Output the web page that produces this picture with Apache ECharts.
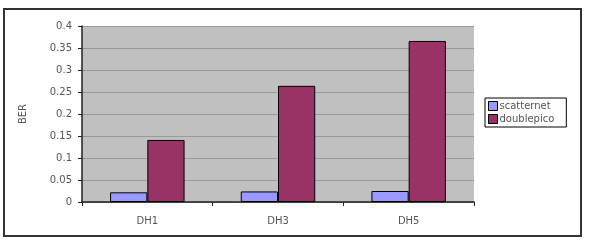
<!DOCTYPE html>
<html>
<head>
<meta charset="utf-8">
<script src="https://cdn.jsdelivr.net/npm/echarts@6/dist/echarts.min.js"></script>
<style>
  html, body { margin: 0; padding: 0; background: #fff; }
  #chart { width: 590px; height: 240px; }
</style>
</head>
<body>
<div id="chart"></div>
<script>
// data
const categories = ['DH1', 'DH3', 'DH5']
const scatternet = [0.022, 0.024, 0.025]
const doublepico = [0.141, 0.264, 0.366]
const yTicks = [0, 0.05, 0.1, 0.15, 0.2, 0.25, 0.3, 0.35, 0.4]

const font = 'DejaVu Sans, Liberation Sans, Arial, sans-serif'
const chart = echarts.init(document.getElementById('chart'))

chart.setOption({
  animation: false,
  textStyle: { fontFamily: font },
  graphic: [
    // outer frame
    {
      type: 'rect',
      shape: { x: 4, y: 9, width: 577, height: 227 },
      style: { fill: 'none', stroke: '#333', lineWidth: 2 },
      z: 100
    }
  ],
  grid: {
    left: 82,
    right: 116,
    top: 26,
    bottom: 38,
    show: true,
    backgroundColor: '#c0c0c0',
    borderWidth: 0
  },
  legend: {
    orient: 'vertical',
    left: 485,
    top: 98,
    icon: 'rect',
    itemWidth: 9,
    itemHeight: 9,
    itemGap: 3,
    padding: [3, 12, 3, 3],
    borderColor: '#000',
    borderWidth: 1,
    backgroundColor: '#fff',
    textStyle: { fontSize: 10, color: '#555', fontFamily: font, padding: [0, 0, 0, -3] },
    data: [
      { name: 'scatternet', itemStyle: { borderColor: '#000', borderWidth: 1 } },
      { name: 'doublepico', itemStyle: { borderColor: '#000', borderWidth: 1 } }
    ]
  },
  xAxis: {
    type: 'category',
    data: categories,
    axisLine: { lineStyle: { color: '#222', width: 1.5 } },
    axisTick: { show: true, length: 4, inside: false, lineStyle: { color: '#222' } },
    axisLabel: { fontSize: 10, color: '#555', margin: 14 }
  },
  yAxis: {
    type: 'value',
    min: 0,
    max: 0.4,
    interval: 0.05,
    name: 'BER',
    nameLocation: 'middle',
    nameRotate: 90,
    nameGap: 54,
    nameTextStyle: { fontSize: 10, color: '#555' },
    axisLine: { show: true, lineStyle: { color: '#222', width: 1.5 } },
    axisTick: { show: true, length: 4, lineStyle: { color: '#222' } },
    axisLabel: {
      fontSize: 10,
      color: '#555',
      margin: 10,
      formatter: v => {
        const t = yTicks.find(x => Math.abs(x - v) < 1e-9)
        return t === undefined ? '' : String(t)
      }
    },
    splitLine: { show: true, lineStyle: { color: '#9a9a9a', width: 1 } }
  },
  series: [
    {
      name: 'scatternet',
      type: 'bar',
      data: scatternet,
      barGap: '0%',
      barCategoryGap: '43%',
      itemStyle: { color: '#9999ff', borderColor: '#000', borderWidth: 1 }
    },
    {
      name: 'doublepico',
      type: 'bar',
      data: doublepico,
      itemStyle: { color: '#993366', borderColor: '#000', borderWidth: 1 }
    }
  ]
})
</script>
</body>
</html>
